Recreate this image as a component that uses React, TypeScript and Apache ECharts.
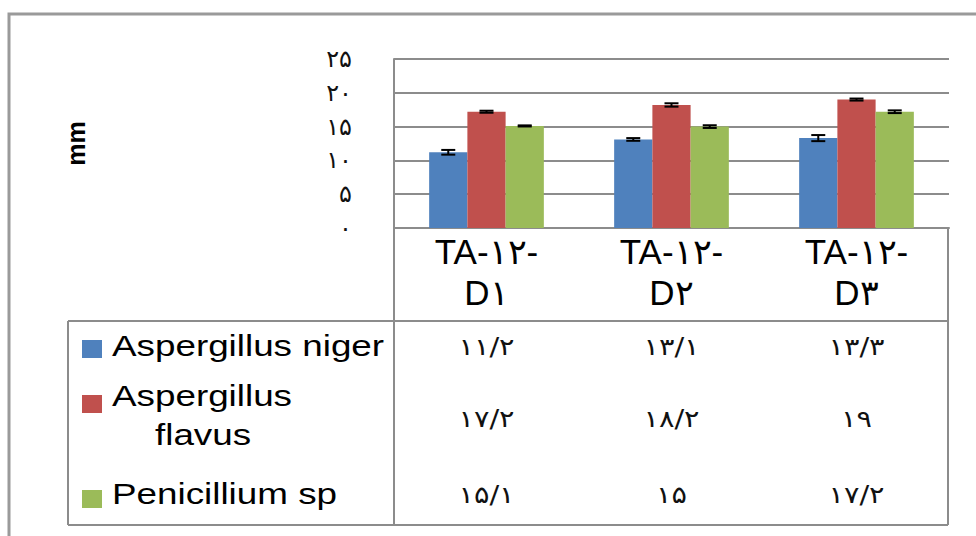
import React, { useEffect, useRef } from "react";
import * as echarts from "echarts";

const categories = ["TA-۱۲-D۱", "TA-۱۲-D۲", "TA-۱۲-D۳"];
const seriesNames = ["Aspergillus niger", "Aspergillus flavus", "Penicillium sp"];
const nigerValues = [11.2, 13.1, 13.3];
const flavusValues = [17.2, 18.2, 19];
const penicilliumValues = [15.1, 15, 17.2];
const nigerErrors = [0.35, 0.2, 0.45];
const flavusErrors = [0.15, 0.25, 0.15];
const penicilliumErrors = [0.08, 0.2, 0.2];
const yTicks = [0, 5, 10, 15, 20, 25];
const colors = ["#4F81BD", "#C0504D", "#9BBB59"];

const FA = "۰۱۲۳۴۵۶۷۸۹";
const toFa = (v: number | string) =>
  String(v).replace(".", "/").replace(/\d/g, (d) => FA[+d]);

export default function App() {
  const ref = useRef<HTMLDivElement>(null);
  useEffect(() => {
    if (!ref.current) return;
    const chart = echarts.init(ref.current, undefined, { renderer: "svg" });
    const allValues = [nigerValues, flavusValues, penicilliumValues];
    const allErrors = [nigerErrors, flavusErrors, penicilliumErrors];
    const gap = 0.38;

    const errData: number[][] = [];
    allValues.forEach((vals, s) =>
      vals.forEach((v, c) => errData.push([c, s, v, allErrors[s][c]]))
    );

    const gridLeft = 394, gridRight = 949, gridTop = 59, gridBottom = 228;
    const catW = (gridRight - gridLeft) / categories.length;
    const lineColor = "#8c8c8c";
    const font = '"Liberation Sans", Arial, sans-serif';

    const rowY = [346, 418, 494];
    const graphics: any[] = [
      {
        type: "rect",
        silent: true,
        z: -10,
        shape: { x: 9, y: 14, width: 1000, height: 560 },
        style: { fill: "none", stroke: "#9a9a9a", lineWidth: 3 },
      },
      { type: "line", shape: { x1: gridLeft, y1: gridBottom, x2: gridLeft, y2: 525 }, style: { stroke: lineColor, lineWidth: 2 } },
      { type: "line", shape: { x1: 948, y1: gridBottom, x2: 948, y2: 525 }, style: { stroke: lineColor, lineWidth: 2 } },
      { type: "line", shape: { x1: 68, y1: 321, x2: 948, y2: 321 }, style: { stroke: lineColor, lineWidth: 2 } },
      { type: "line", shape: { x1: 68, y1: 525, x2: 948, y2: 525 }, style: { stroke: lineColor, lineWidth: 2 } },
      { type: "line", shape: { x1: 68, y1: 321, x2: 68, y2: 525 }, style: { stroke: lineColor, lineWidth: 2 } },
    ];

    const swatchY = [349, 404, 499];
    seriesNames.forEach((name, s) => {
      graphics.push({
        type: "rect",
        shape: { x: 82, y: swatchY[s] - 9, width: 20, height: 18 },
        style: { fill: colors[s] },
      });
      const parts = s === 1 ? ["Aspergillus", "flavus"] : [name];
      const ys = s === 1 ? [396, 435] : [rowY[s]];
      const xs = s === 1 ? [112, 155] : [112];
      parts.forEach((p, i) =>
        graphics.push({
          type: "text",
          x: xs[i],
          y: ys[i],
          scaleX: 1.27,
          style: {
            text: p,
            font: `29px ${font}`,
            fill: "#000",
            textAlign: "left",
            textVerticalAlign: "middle",
          },
        })
      );
      allValues[s].forEach((v, c) =>
        graphics.push({
          type: "text",
          x: gridLeft + catW * (c + 0.5),
          y: rowY[s],
          scaleX: 1.2,
          style: {
            text: toFa(v),
            font: '24px "DejaVu Sans", sans-serif',
            fill: "#111",
            textAlign: "center",
            textVerticalAlign: "middle",
          },
        })
      );
    });

    chart.setOption({
      animation: false,
      grid: {
        left: gridLeft,
        right: 976 - gridRight,
        top: gridTop,
        bottom: 536 - gridBottom,
        containLabel: false,
      },
      xAxis: {
        type: "category",
        data: categories,
        axisLine: { show: true, lineStyle: { color: lineColor, width: 2 } },
        axisTick: { show: false },
        axisLabel: {
          interval: 0,
          margin: 3,
          fontSize: 35,
          lineHeight: 41,
          fontFamily: font,
          color: "#000",
          formatter: (v: string) => v.replace("-D", "-\nD"),
        },
      },
      yAxis: {
        type: "value",
        min: yTicks[0],
        max: yTicks[yTicks.length - 1],
        interval: yTicks[1] - yTicks[0],
        name: "mm",
        nameLocation: "middle",
        nameRotate: 90,
        nameGap: 306,
        nameTextStyle: {
          fontSize: 25,
          fontWeight: "bold",
          fontFamily: font,
          color: "#000",
        },
        axisLine: { show: true, lineStyle: { color: lineColor, width: 2 } },
        axisTick: { show: false },
        splitLine: { lineStyle: { color: lineColor, width: 2 } },
        axisLabel: {
          margin: 42,
          fontSize: 24,
          fontFamily: '"DejaVu Sans", sans-serif',
          color: "#111",
          formatter: (v: number) => toFa(v),
        },
      },
      series: [
        ...allValues.map((vals, s) => ({
          type: "bar",
          name: seriesNames[s],
          data: vals,
          barGap: "0%",
          barCategoryGap: `${gap * 100}%`,
          itemStyle: { color: colors[s] },
        })),
        {
          type: "custom",
          data: errData,
          encode: { x: 0, y: 2 },
          z: 10,
          renderItem: (params: any, api: any) => {
            const c = api.value(0);
            const s = api.value(1);
            const v = api.value(2);
            const e = api.value(3);
            const cw = api.size([1, 0])[0];
            const bw = (cw * (1 - gap)) / 3;
            const top = api.coord([c, v + e]);
            const bot = api.coord([c, v - e]);
            const x = top[0] + (s - 1) * bw;
            const hw = 7;
            const st = { stroke: "#000", lineWidth: 2 };
            return {
              type: "group",
              children: [
                { type: "line", shape: { x1: x, y1: top[1], x2: x, y2: bot[1] }, style: st },
                { type: "line", shape: { x1: x - hw, y1: top[1], x2: x + hw, y2: top[1] }, style: st },
                { type: "line", shape: { x1: x - hw, y1: bot[1], x2: x + hw, y2: bot[1] }, style: st },
              ],
            };
          },
        },
      ],
      graphic: graphics,
    });
    return () => chart.dispose();
  }, []);
  return (
    <div
      ref={ref}
      style={{ position: "fixed", left: 0, top: 0, width: 976, height: 536, background: "#fff" }}
    />
  );
}
